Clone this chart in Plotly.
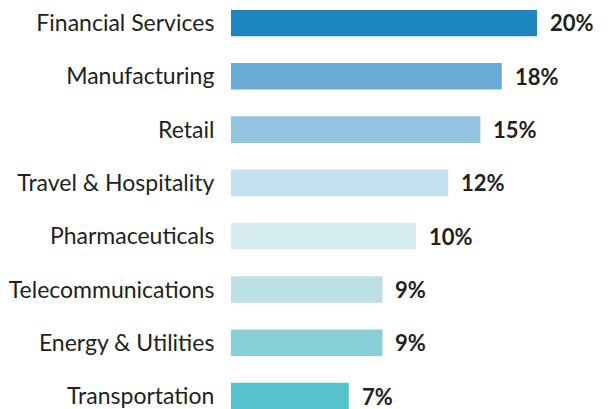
import plotly.graph_objects as go

categories = ["Financial Services", "Manufacturing", "Retail", "Travel & Hospitality",
              "Pharmaceuticals", "Telecommunications", "Energy & Utilities", "Transportation"]
bar_lengths = [20, 17.7, 16.3, 14.2, 12.1, 9.9, 9.9, 7.7]
value_labels = ["20%", "18%", "15%", "12%", "10%", "9%", "9%", "7%"]
colors = ["#1b87be", "#69acd6", "#94c3df", "#c2e0ee", "#d6eef1", "#bde0e6", "#88d0d7", "#55c2ce"]

fig = go.Figure(go.Bar(
    x=bar_lengths, y=categories, orientation="h",
    marker=dict(color=colors, line=dict(width=0)),
    width=0.5, hoverinfo="skip",
))

for c, v, t in zip(categories, bar_lengths, value_labels):
    fig.add_annotation(x=v, y=c, text="<b>%s</b>" % t, showarrow=False,
                       xanchor="left", xshift=11, yshift=0,
                       font=dict(family="Lato", size=22, color="#231f20"))

fig.update_layout(
    width=613, height=409,
    margin=dict(l=223, r=0, t=0, b=0),
    paper_bgcolor="white", plot_bgcolor="white",
    showlegend=False,
    xaxis=dict(range=[0, 25.49], visible=False),
    yaxis=dict(type="category", range=[7.392, -0.243], showgrid=False, zeroline=False,
               showline=False, ticks="outside", ticklen=11, tickcolor="rgba(0,0,0,0)",
               tickfont=dict(family="Lato", size=23, color="#231f20")),
)

fig.write_html("out.html")
